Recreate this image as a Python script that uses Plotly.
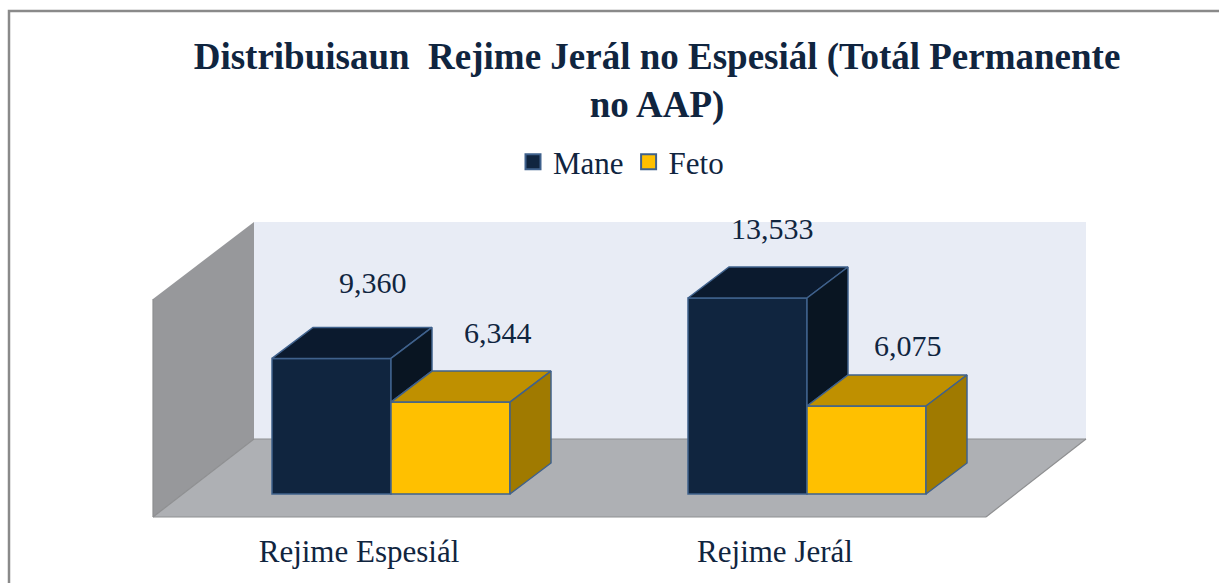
import plotly.graph_objects as go

categories = ["Rejime Espesiál", "Rejime Jerál"]
mane = [9360, 13533]
feto = [6344, 6075]
series_names = ["Mane", "Feto"]
value_labels = [["9,360", "13,533"], ["6,344", "6,075"]]
title_text = "Distribuisaun  Rejime Jerál no Espesiál (Totál Permanente<br>no AAP)"

W, H, BOTTOM = 1219, 583, 530
PX_PER_UNIT = 196 / 13533
BAR_W_PX, CAT_STEP = 119, 416
X0_PX, Y0_PX = 391, 494


def xd(px):
    return (px - X0_PX) / CAT_STEP


def yd(py):
    return (Y0_PX - py) / PX_PER_UNIT


DX, DY = 41 / CAT_STEP, 31 / PX_PER_UNIT
BW = BAR_W_PX / CAT_STEP
EDGE = "#3f618c"
TEXT = "#10253f"
FONT = "Liberation Serif"
cats = list(range(len(categories)))

fig = go.Figure()
for name, vals, col, off in [(series_names[0], mane, "#10253f", -BW), (series_names[1], feto, "#ffc000", 0)]:
    fig.add_bar(x=cats, y=vals, name=name, marker=dict(color=col, line=dict(color=EDGE, width=1.5)),
                width=BW, offset=off, showlegend=False, hoverinfo="skip")


def poly(xs, ys, color):
    fig.add_scatter(x=xs, y=ys, mode="lines", fill="toself", fillcolor=color,
                    line=dict(color=EDGE, width=1.5), showlegend=False, hoverinfo="skip")


for i in cats:
    m, f = mane[i], feto[i]
    # Mane: top face and the part of the side face not hidden by Feto
    poly([i - BW, i, i + DX, i - BW + DX, i - BW], [m, m, m + DY, m + DY, m], "#0b1a2e")
    poly([i, i + DX, i + DX, i, i], [m, m + DY, f + DY, f, m], "#091522")
    # Feto: top face and side face
    poly([i, i + BW, i + BW + DX, i + DX, i], [f, f, f + DY, f + DY, f], "#bf9000")
    poly([i + BW, i + BW + DX, i + BW + DX, i + BW, i + BW], [f, f + DY, DY, 0, f], "#a07a00")

for name, col in [(series_names[0], "#10253f"), (series_names[1], "#ffc000")]:
    fig.add_scatter(x=[None], y=[None], mode="markers", name=name,
                    marker=dict(symbol="square", size=15, color=col, line=dict(color=EDGE, width=2)))

nudges = [[(41, 76), (25, 70)], [(47, 70), (41, 61)]]
for s, (vals, sign) in enumerate([(mane, -0.5), (feto, 0.5)]):
    for i in cats:
        fig.add_annotation(x=i + sign * BW, y=vals[i], text=value_labels[s][i], showarrow=False,
                           xshift=nudges[s][i][0], yshift=nudges[s][i][1],
                           font=dict(family=FONT, size=30, color=TEXT))

surfaces = [
    ([254, 1086, 1086, 254], [222, 222, 439, 439], "#e8ecf5"),
    ([153, 254, 254, 153], [299, 222, 439, 517], "#97989b"),
    ([153, 254, 1086, 986], [517, 439, 439, 517], "#aeb0b4"),
]
shapes = []
for xs, ys, col in surfaces:
    path = "M " + " L ".join(f"{xd(a):.5f},{yd(b):.2f}" for a, b in zip(xs, ys)) + " Z"
    shapes.append(dict(type="path", path=path, fillcolor=col, line=dict(width=0), layer="below"))
for x0, y0, x1, y1 in [(153, 517, 986, 517), (986, 517, 1086, 439), (153, 299, 153, 517), (254, 439, 1086, 439), (153, 517, 254, 439)]:
    shapes.append(dict(type="line", x0=xd(x0), y0=yd(y0), x1=xd(x1), y1=yd(y1), line=dict(color="#8e8f91", width=1.2), layer="below"))
# chart frame: left and top edges, the page crops the rest (paper y is relative to the plot area)
shapes.append(dict(type="path", xref="paper", yref="paper",
                   path=f"M {9/W},{-(H-BOTTOM)/BOTTOM} L {9/W},{1-11/BOTTOM} L 1,{1-11/BOTTOM}",
                   line=dict(color="#8a8a8a", width=2.5), layer="above"))

fig.update_layout(
    width=W, height=H, autosize=False,
    margin=dict(l=0, r=0, t=0, b=H - BOTTOM, pad=0),
    paper_bgcolor="white", plot_bgcolor="white",
    barmode="overlay",
    shapes=shapes,
    title=dict(text=title_text, x=657 / W, xanchor="center", y=1 - 69 / H, yanchor="middle",
               font=dict(family=FONT, size=37, color=TEXT, weight="bold")),
    legend=dict(orientation="h", x=513 / W, xanchor="left", y=1 - 162 / BOTTOM, yanchor="middle",
                font=dict(family=FONT, size=31, color=TEXT), bgcolor="rgba(0,0,0,0)",
                itemsizing="trace", itemclick=False, itemdoubleclick=False),
    xaxis=dict(range=[xd(0), xd(W)], tickvals=[c - 32 / CAT_STEP for c in cats], ticktext=categories,
               showgrid=False, zeroline=False, showline=False, ticks="", ticklen=0,
               tickfont=dict(family=FONT, size=31, color=TEXT)),
    yaxis=dict(range=[yd(BOTTOM), yd(0)], visible=False, showgrid=False, zeroline=False),
)
fig.write_html("out.html", config={"displayModeBar": False}, post_script="document.body.style.margin='0';")
